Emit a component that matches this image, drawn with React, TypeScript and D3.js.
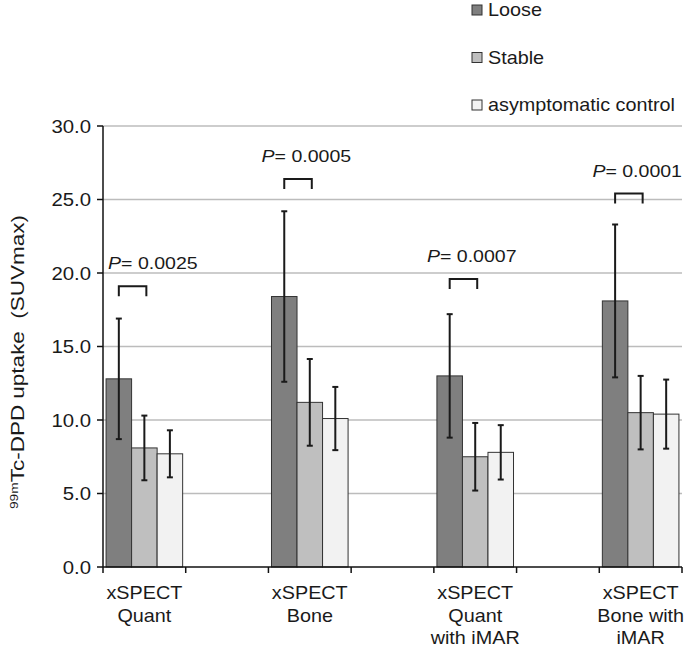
import React from "react";
import * as d3 from "d3";

const groups = [["xSPECT", "Quant"], ["xSPECT", "Bone"], ["xSPECT", "Quant", "with iMAR"], ["xSPECT", "Bone with", "iMAR"]];
const series = ["Loose", "Stable", "asymptomatic control"];
const looseMean = [12.8, 18.4, 13.0, 18.1];
const looseSD = [4.1, 5.8, 4.2, 5.2];
const stableMean = [8.1, 11.2, 7.5, 10.5];
const stableSD = [2.2, 2.95, 2.3, 2.5];
const controlMean = [7.7, 10.1, 7.8, 10.4];
const controlSD = [1.6, 2.15, 1.85, 2.35];
const bracketLevel = [19.1, 26.4, 19.6, 25.4];
const pValues = ["0.0025", "0.0005", "0.0007", "0.0001"];
const yTicks = [0, 5, 10, 15, 20, 25, 30];

const W = 685, H = 648;
const FONT = "'Liberation Sans', Arial, sans-serif";
const SX = 1.1;
const colors = ["#7f7f7f", "#bfbfbf", "#f2f2f2"];

function SText({ x, y, anchor = "start", size = 18, children }: any) {
  return (
    <g transform={`translate(${x},${y}) scale(${SX},1)`}>
      <text x={0} y={0} textAnchor={anchor} fontSize={size} fontFamily={FONT} fill="#1a1a1a">
        {children}
      </text>
    </g>
  );
}

export default function App() {
  const x0 = 103, x1 = 682;
  const slots = d3.range(7);
  const xBand = d3.scaleBand<number>().domain(slots).range([x0, x1]).padding(0);
  const inner = d3.scaleBand<number>().domain([0, 1, 2]).range([0, xBand.bandwidth()]).paddingInner(0).paddingOuter(0.12);
  const y = d3.scaleLinear().domain([0, 30]).range([567, 126]);
  const means = [looseMean, stableMean, controlMean];
  const sds = [looseSD, stableSD, controlSD];

  return (
    <svg width={W} height={H} style={{ position: "absolute", left: 0, top: 0, background: "#fff" }}>
      <rect width={W} height={H} fill="#fff" />
      {yTicks.filter((t) => t > 0).map((t) => (
        <line key={t} x1={x0} x2={x1} y1={y(t)} y2={y(t)} stroke="#bcbcbc" strokeWidth={1.5} />
      ))}
      {groups.map((g, gi) => {
        const gx = xBand(gi * 2)!;
        const bw = inner.bandwidth();
        const a = gx + inner(0)! + bw / 2;
        const b = gx + inner(1)! + bw / 2 + 2;
        const yt = y(bracketLevel[gi]);
        const labelW = 93;
        let left = (a + b) / 2 + 10 - labelW / 2;
        left = Math.max(left, x0 + 5);
        return (
          <g key={gi}>
            {means.map((m, si) => {
              const bx = gx + inner(si)!;
              const v = m[gi];
              const sd = sds[si][gi];
              const cx = bx + bw / 2;
              return (
                <g key={si}>
                  <rect x={bx} y={y(v)} width={bw} height={y(0) - y(v)} fill={colors[si]} stroke="#333" strokeWidth={1} />
                  <line x1={cx} x2={cx} y1={y(v + sd)} y2={y(v - sd)} stroke="#1a1a1a" strokeWidth={2} />
                  <line x1={cx - 3} x2={cx + 3} y1={y(v + sd)} y2={y(v + sd)} stroke="#1a1a1a" strokeWidth={2} />
                  <line x1={cx - 3} x2={cx + 3} y1={y(v - sd)} y2={y(v - sd)} stroke="#1a1a1a" strokeWidth={2} />
                </g>
              );
            })}
            <path d={`M${a},${yt + 10}V${yt}H${b}V${yt + 10}`} fill="none" stroke="#1a1a1a" strokeWidth={2} />
            <g transform={`translate(${left},${yt - 17}) scale(1.15,1)`}>
              <text fontSize={17} fontFamily={FONT} fill="#1a1a1a">
                <tspan fontStyle="italic">P</tspan>= {pValues[gi]}
              </text>
            </g>
          </g>
        );
      })}
      <line x1={x0} x2={x0} y1={y(30)} y2={y(0)} stroke="#111" strokeWidth={1.5} />
      <line x1={x0} x2={x1} y1={y(0)} y2={y(0)} stroke="#111" strokeWidth={1.5} />
      {yTicks.map((t) => (
        <g key={t}>
          <line x1={x0 - 6} x2={x0} y1={y(t)} y2={y(t)} stroke="#111" strokeWidth={1.5} />
          <SText x={91} y={y(t) + 6.5} anchor="end" size={18.5}>{d3.format(".1f")(t)}</SText>
        </g>
      ))}
      {d3.range(8).map((i) => {
        const xx = i < 7 ? xBand(i)! : x1;
        return <line key={i} x1={xx} x2={xx} y1={y(0)} y2={y(0) + 6} stroke="#111" strokeWidth={1.5} />;
      })}
      {groups.map((g, gi) => {
        const cx = xBand(gi * 2)! + xBand.bandwidth() / 2;
        return (
          <g key={gi}>
            {g.map((line, li) => (
              <SText key={li} x={cx} y={599 + li * 22.5} anchor="middle" size={18}>{line}</SText>
            ))}
          </g>
        );
      })}
      <g transform={`translate(24,362) rotate(-90) scale(1.25,1)`}>
        <text textAnchor="middle" fontSize={18} fontFamily={FONT} fill="#1a1a1a" style={{ whiteSpace: "pre" }}>
          <tspan fontSize={11} dy={-6}>99m</tspan>
          <tspan dy={6}>{"Tc-DPD uptake\u00a0\u00a0(SUVmax)"}</tspan>
        </text>
      </g>
      {series.map((s, i) => (
        <g key={s}>
          <rect x={472} y={5 + i * 47.5} width={10} height={10} fill={colors[i]} stroke="#333" strokeWidth={1} />
          <SText x={488} y={16 + i * 47.5} size={18}>{s}</SText>
        </g>
      ))}
    </svg>
  );
}
